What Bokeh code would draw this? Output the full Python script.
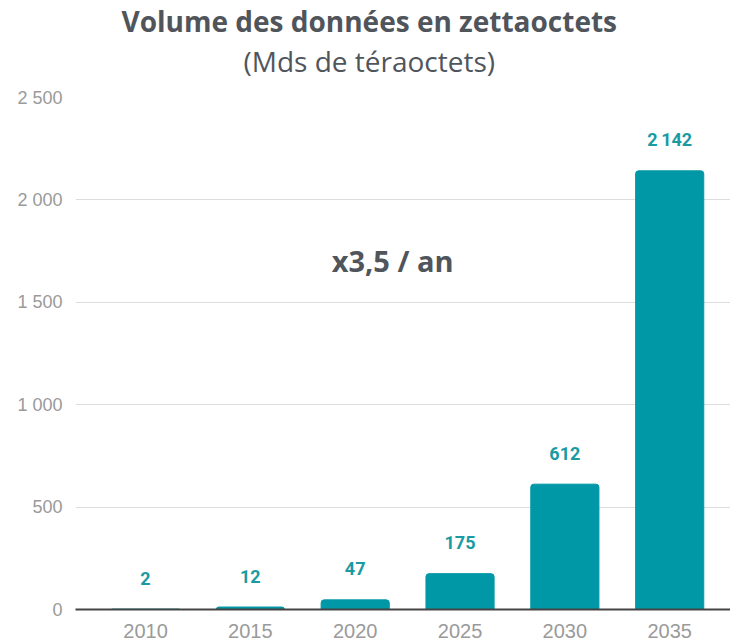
from bokeh.plotting import figure
from bokeh.models import Range1d, FixedTicker, Label, Title, ColumnDataSource
from bokeh.core.properties import value
from bokeh.embed import file_html
from bokeh.resources import INLINE

years = ["2010", "2015", "2020", "2025", "2030", "2035"]
volumes = [2, 12, 47, 175, 612, 2142]
y_ticks = [0, 500, 1000, 1500, 2000, 2500]

def fmt(v, sep=" "):
    return f"{v:,}".replace(",", sep)

xs = list(range(len(years)))
src = ColumnDataSource(dict(x=xs, top=volumes, lab=[fmt(v, "\u2009") for v in volumes]))

TEAL = "#0097a7"
GREY_TXT = "#50555c"
TICK_TXT = "#9a9a9a"

p = figure(width=730, height=640, output_backend="svg", toolbar_location=None,
           x_range=Range1d(-0.668, 5.58), y_range=Range1d(0, 2500),
           min_border_left=75, min_border_right=0, min_border_top=0, min_border_bottom=0)
p.outline_line_color = None
p.background_fill_color = "white"
p.border_fill_color = "white"

p.vbar(x="x", top="top", width=0.65, bottom=0, source=src, color=TEAL,
       border_radius=(3, 3, 0, 0))
p.text(x="x", y="top", text="lab", source=src, text_align="center",
       text_baseline="middle", y_offset=-31, text_color="#1a9aa3",
       text_font_size="18px", text_font_style="bold", text_font=value("Roboto"))

# axes
p.xaxis.ticker = FixedTicker(ticks=xs)
p.xaxis.major_label_overrides = {i: y for i, y in enumerate(years)}
p.xaxis.axis_line_color = "#444444"
p.xaxis.axis_line_width = 2
p.xaxis.major_tick_line_color = None
p.xaxis.major_tick_out = 0
p.xaxis.major_tick_in = 0
p.xaxis.minor_tick_line_color = None
p.xaxis.major_label_text_color = TICK_TXT
p.xaxis.major_label_text_font = "Liberation Sans"
p.xaxis.major_label_text_font_size = "20px"
p.xaxis.major_label_standoff = 14

p.yaxis.ticker = FixedTicker(ticks=y_ticks)
p.yaxis.major_label_overrides = {t: fmt(t) for t in y_ticks}
p.yaxis.axis_line_color = None
p.yaxis.major_tick_line_color = None
p.yaxis.major_tick_out = 0
p.yaxis.major_tick_in = 0
p.yaxis.minor_tick_line_color = None
p.yaxis.major_label_text_color = TICK_TXT
p.yaxis.major_label_text_font = "Liberation Sans"
p.yaxis.major_label_text_font_size = "18px"
p.yaxis.major_label_standoff = 13

p.xgrid.grid_line_color = None
p.ygrid.grid_line_color = "#dddddd"
p.ygrid.grid_line_width = 1

# spacer between plot area and subtitle
p.add_layout(Title(text="\u00a0", text_font_size="10px", standoff=4,
                   text_color="white"), "above")
p.add_layout(Title(text="(Mds de téraoctets)", align="left", offset=168,
                   text_font="Open Sans", text_font_size="28px", text_font_style="normal",
                   text_color=GREY_TXT, standoff=2), "above")
p.add_layout(Title(text="Volume des données en zettaoctets", align="left", offset=46,
                   text_font="Open Sans", text_font_size="28px", text_font_style="bold",
                   text_color=GREY_TXT, standoff=-2), "above")

p.add_layout(Label(x=2.357, y=1706, text="x3,5 / an", text_align="center",
                   text_baseline="middle", text_font="Open Sans", text_font_size="29px",
                   text_font_style="bold", text_color=GREY_TXT))

open("out.html", "w").write(file_html(p, INLINE))
